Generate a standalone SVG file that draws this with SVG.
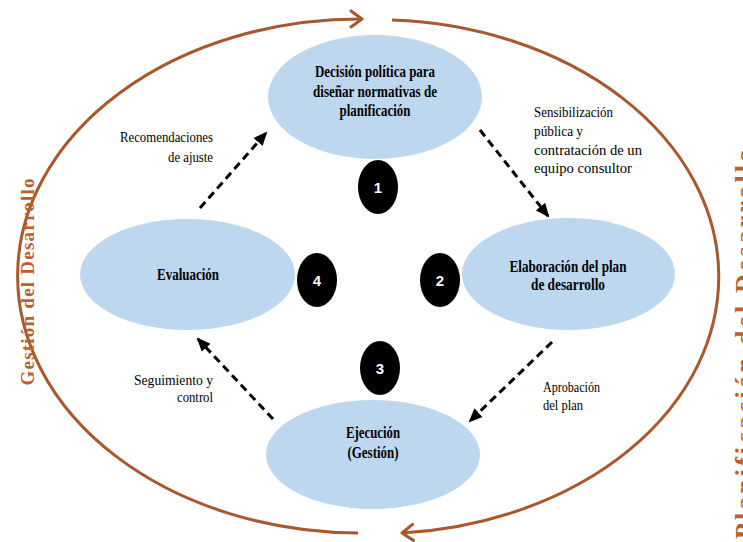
<svg xmlns="http://www.w3.org/2000/svg" width="743" height="542" viewBox="0 0 743 542">
<style>
.node{fill:#BDD7EE;}
.nt{font-family:"Liberation Serif","Times New Roman",serif;font-weight:bold;font-size:16px;fill:#000;text-anchor:middle;}
.el{font-family:"Liberation Serif","Times New Roman",serif;font-size:15px;fill:#000;}
.num{fill:#000;}
.nn{font-family:"Liberation Sans Narrow","Liberation Sans",Arial,sans-serif;font-weight:bold;font-size:15px;fill:#fff;text-anchor:middle;}
.dash{fill:none;stroke:#000;stroke-width:3;stroke-dasharray:8,5;}
.cycle{fill:none;stroke:#A9572D;stroke-width:3;}
.side{font-family:"Liberation Serif","Times New Roman",serif;font-weight:bold;fill:#B5622F;text-anchor:middle;}
</style>
<defs>
<marker id="ah" markerWidth="14" markerHeight="12" refX="12" refY="6" orient="auto" markerUnits="userSpaceOnUse">
<path d="M0,0 L14,6 L0,12 Z" fill="#000"/>
</marker>
<marker id="ch" markerWidth="16" markerHeight="20" refX="13" refY="10" orient="auto" markerUnits="userSpaceOnUse">
<path d="M2,2 L13,10 L2,18" fill="none" stroke="#A9572D" stroke-width="3" stroke-linecap="round" stroke-linejoin="round"/>
</marker>
</defs>

<g id="cycle">
<path class="cycle" d="M 358 533 A 342.5 257 0 0 1 362 19" marker-end="url(#ch)"/>
<path class="cycle" d="M 392 20 A 342.5 257 0 0 1 402 533" marker-end="url(#ch)"/>
</g>
<text class="side" font-size="19" transform="translate(34,282) rotate(-90)" textLength="207" lengthAdjust="spacing">Gestión  del Desarrollo</text>
<text class="side" font-size="26" transform="translate(753,344) rotate(-90)" textLength="390" lengthAdjust="spacing">Planificación  del Desarrollo</text>

<g id="connectors">
<path class="dash" d="M200,208 L266,133" marker-end="url(#ah)"/>
<path class="dash" d="M480,130 L548,216" marker-end="url(#ah)"/>
<path class="dash" d="M552,342 L470,421" marker-end="url(#ah)"/>
<path class="dash" d="M273,419 L198,339" marker-end="url(#ah)"/>
</g>

<g id="labels">
<text class="el" x="120" y="142" textLength="93" lengthAdjust="spacingAndGlyphs">Recomendaciones</text>
<text class="el" x="168" y="162" textLength="45" lengthAdjust="spacingAndGlyphs">de ajuste</text>
<text class="el" x="534" y="117" textLength="79" lengthAdjust="spacingAndGlyphs">Sensibilización</text>
<text class="el" x="534" y="136" textLength="49" lengthAdjust="spacingAndGlyphs">pública y</text>
<text class="el" x="534" y="155" textLength="108" lengthAdjust="spacingAndGlyphs">contratación de un</text>
<text class="el" x="534" y="173" textLength="98" lengthAdjust="spacingAndGlyphs">equipo consultor</text>
<text class="el" x="543" y="392" textLength="57" lengthAdjust="spacingAndGlyphs">Aprobación</text>
<text class="el" x="543" y="410" textLength="40" lengthAdjust="spacingAndGlyphs">del plan</text>
<text class="el" x="134" y="385" textLength="79" lengthAdjust="spacingAndGlyphs">Seguimiento  y</text>
<text class="el" x="177" y="402" textLength="36" lengthAdjust="spacingAndGlyphs">control</text>
</g>

<g id="node-decision">
<ellipse class="node" cx="375" cy="97" rx="107" ry="62"/>
<text class="nt" x="375" y="77" textLength="120" lengthAdjust="spacingAndGlyphs">Decisión política para</text>
<text class="nt" x="375" y="97" textLength="124" lengthAdjust="spacingAndGlyphs">diseñar normativas de</text>
<text class="nt" x="375" y="116" textLength="71" lengthAdjust="spacingAndGlyphs">planificación</text>
</g>
<g id="node-elaboracion">
<ellipse class="node" cx="568.5" cy="274" rx="106.5" ry="56"/>
<text class="nt" x="568" y="272" textLength="117" lengthAdjust="spacingAndGlyphs">Elaboración del plan</text>
<text class="nt" x="568" y="290" textLength="74" lengthAdjust="spacingAndGlyphs">de desarrollo</text>
</g>
<g id="node-ejecucion">
<ellipse class="node" cx="373" cy="454.5" rx="107" ry="54.5"/>
<text class="nt" x="373" y="438" textLength="54" lengthAdjust="spacingAndGlyphs">Ejecución</text>
<text class="nt" x="373" y="458" textLength="51" lengthAdjust="spacingAndGlyphs">(Gestión)</text>
</g>
<g id="node-evaluacion">
<ellipse class="node" cx="187.5" cy="274.5" rx="107.5" ry="55.5"/>
<text class="nt" x="188" y="280" textLength="62" lengthAdjust="spacingAndGlyphs">Evaluación</text>
</g>

<g id="step-1"><ellipse class="num" cx="378" cy="187" rx="20" ry="27"/><text class="nn" x="378" y="193">1</text></g>
<g id="step-2"><ellipse class="num" cx="440" cy="280" rx="20" ry="27"/><text class="nn" x="440" y="286">2</text></g>
<g id="step-3"><ellipse class="num" cx="380" cy="368" rx="20" ry="27"/><text class="nn" x="380" y="374">3</text></g>
<g id="step-4"><ellipse class="num" cx="317" cy="280" rx="20" ry="27"/><text class="nn" x="317" y="286">4</text></g>
</svg>
